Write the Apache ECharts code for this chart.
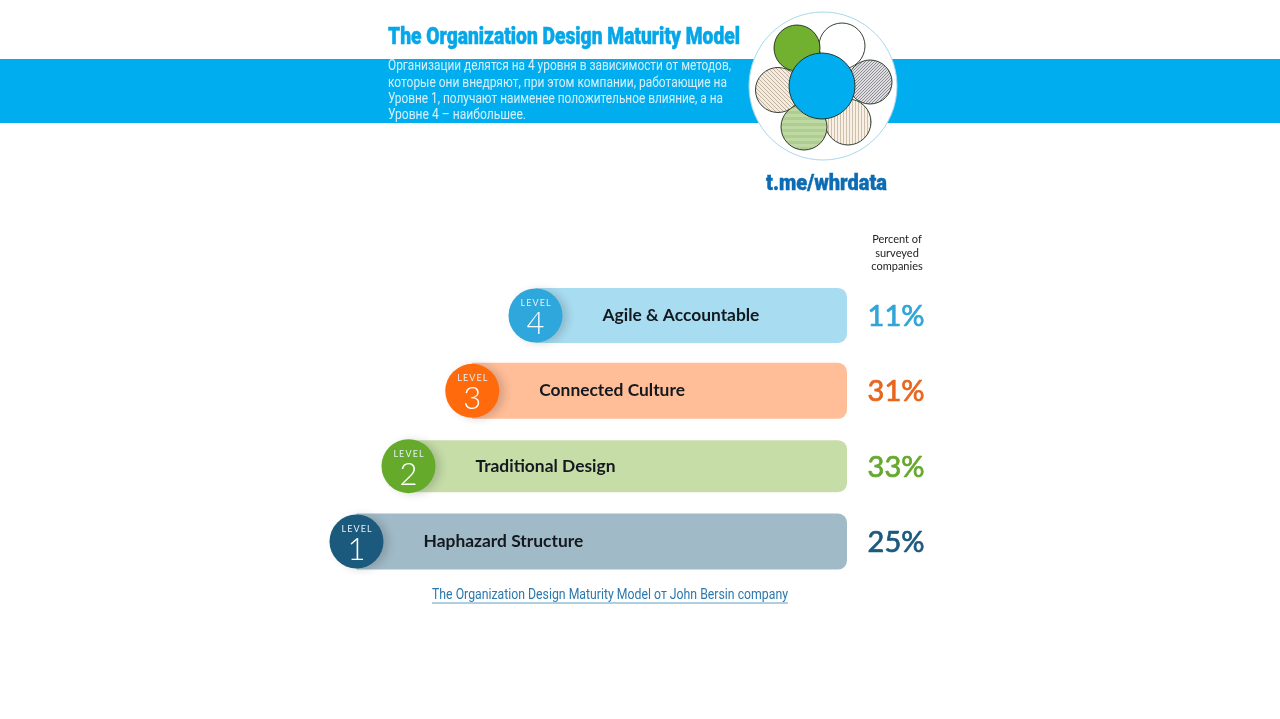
<!DOCTYPE html>
<html><head><meta charset="utf-8">
<style>html,body{margin:0;padding:0;background:#fff}#c{width:1280px;height:719px}</style>
<script src="https://cdn.jsdelivr.net/npm/echarts@6/dist/echarts.min.js"></script>
</head><body><div id="c"></div>
<script>
// DATA (bottom to top)
const categories = ['Haphazard Structure','Traditional Design','Connected Culture','Agile & Accountable'];
const levels = [1,2,3,4];
const percentSurveyed = [25,33,31,11];
const barSpan = [100,89.4,76.4,63.5];   // bar length relative to the longest bar
const titleText = 'The Organization Design Maturity Model';
const introLines = ['Организации делятся на 4 уровня в зависимости от методов,','которые они внедряют, при этом компании, работающие на','Уровне 1, получают наименее положительное влияние, а на','Уровне 4 – наибольшее.'];
const brandText = 't.me/whrdata';
const sourceText = 'The Organization Design Maturity Model от John Bersin company';
const columnHeader = ['Percent of','surveyed','companies'];

// STYLE
const barColors = ['#a1bac7','#c6dda8','#ffbd98','#a8dcf1'];
const circleColors = ['#1b5a7d','#66aa2b','#ff6a0d','#2ea7dc'];
const percentColors = ['#1b5a7d','#66a82e','#e8651d','#31a5d8'];
const barHeights = [56,52,56,55];
const BLUE = '#00aeef';

function pattern(draw, w, h, bg){
  const c = document.createElement('canvas'); c.width=w; c.height=h;
  const g = c.getContext('2d'); g.fillStyle=bg; g.fillRect(0,0,w,h); draw(g);
  return {image:c, repeat:'repeat'};
}
const diag = pattern(g=>{g.strokeStyle='#a89a86';g.lineWidth=.7;g.beginPath();g.moveTo(0,0);g.lineTo(4,4);g.stroke();},4,4,'#f5ecdf');
const dense = pattern(g=>{g.strokeStyle='#77777c';g.lineWidth=.8;g.beginPath();g.moveTo(0,3);g.lineTo(3,0);g.stroke();},3,3,'#dedee2');
const vert = pattern(g=>{g.fillStyle='#cdbfa9';g.fillRect(0,0,1,4);},3,4,'#f8f0e4');
const horiz = pattern(g=>{g.fillStyle='#c0d8a4';g.fillRect(0,0,4,3);},4,6,'#acce8e');

const measure = document.createElement('canvas').getContext('2d');
// text squeezed to a measured width, standing in for the condensed face of the original
function fit(x,y,text,font,fill,width,extra){
  measure.font = font;
  const s = width/measure.measureText(text).width;
  return {type:'text',x,y,scaleX:s,originX:0,originY:0,
    style:Object.assign({text,font,fill,align:'left',verticalAlign:'middle'},extra||{})};
}
const petal = (cx,cy,r,fill) => ({type:'circle',shape:{cx,cy,r},style:{fill,stroke:'#1d2a1d',lineWidth:.9}});
const txt = (x,y,text,font,fill,align) => ({type:'text',x,y,style:{text,font,fill,align:align||'left',verticalAlign:'middle'}});

const introWidths = [343,339,335,138];
const graphics = [
  {type:'rect',shape:{x:0,y:59,width:1280,height:64},style:{fill:BLUE},z:-1},
  fit(388,38,titleText,'900 23px Roboto','#06a7e8',352,{stroke:'#06a7e8',lineWidth:.5}),
  ...introLines.map((t,i)=>fit(388,[66.5,83,99.5,115.5][i],t,'14.5px Roboto','#d6effb',introWidths[i])),
  {type:'circle',shape:{cx:823,cy:86,r:74},style:{fill:'#fff',stroke:'#a6d9ea',lineWidth:1}},
  petal(842,46,23,'#fff'),
  petal(797,48,23,'#72b02f'),
  petal(870,82,22,dense),
  petal(848,122,23,vert),
  petal(804,127,23,horiz),
  petal(778,90,22.5,diag),
  petal(822,86,33,BLUE),
  fit(766,184,brandText,'900 22px Roboto','#0b6bb3',121,{stroke:'#0b6bb3',lineWidth:.4}),
  ...columnHeader.map((t,i)=>txt(897,[239,253,266][i],t,'11px Lato','#222','center')),
  fit(432,595,sourceText,'14.5px Roboto','#2a78ad',356),
  {type:'line',shape:{x1:432,y1:603,x2:788,y2:603},style:{stroke:'#5f9cc4',lineWidth:1}}
];

const chart = echarts.init(document.getElementById('c'),null,{renderer:'canvas'});
chart.setOption({
  animation:false,
  backgroundColor:'#fff',
  graphic:{elements:graphics},
  grid:{left:356.5,right:433,top:277.8,height:301.4},
  xAxis:{type:'value',inverse:true,min:0,max:100,show:false},
  yAxis:{type:'category',data:categories,show:false},
  series:[
    {
      type:'custom',
      data:categories.map((c,i)=>[barSpan[i],i,percentSurveyed[i],c]),
      encode:{x:0,y:1},
      clip:false,
      renderItem(params,api){
        const i = params.dataIndex;
        const p = api.coord([api.value(0),api.value(1)]);
        const end = api.coord([0,api.value(1)])[0];
        const h = barHeights[i];
        return {type:'group',children:[
          {type:'rect',shape:{x:p[0],y:p[1]-h/2,width:end-p[0],height:h,r:[0,9,9,0]},style:{fill:barColors[i]}},
          {type:'text',x:p[0]+67,y:p[1],style:{text:categories[i],font:'bold 17.4px Lato',fill:'#14191f',align:'left',verticalAlign:'middle'}},
          {type:'text',x:end+77.5,y:p[1]+1,style:{text:api.value(2)+'%',font:'normal 29px Lato',fill:percentColors[i],stroke:percentColors[i],lineWidth:.7,align:'right',verticalAlign:'middle'}}
        ]};
      },
      z:2
    },
    {
      type:'scatter',
      data:categories.map((c,i)=>({value:[barSpan[i],i],itemStyle:{color:circleColors[i]}})),
      symbol:'circle',
      symbolSize:54,
      itemStyle:{opacity:1,shadowColor:'rgba(0,0,0,0.16)',shadowBlur:9,shadowOffsetX:5,shadowOffsetY:1},
      label:{show:true,position:'inside',offset:[0,2],formatter:p=>`{a|L\u2009E\u2009V\u2009E\u2009L}\n{b|${levels[p.dataIndex]}}`,
        rich:{a:{fontFamily:'Lato',fontSize:9,color:'#e4f0f6',lineHeight:13,align:'center'},
              b:{fontFamily:'Lato',fontSize:31,fontWeight:300,color:'#fff',lineHeight:29,align:'center'}}},
      z:3
    }
  ]
});
</script></body></html>
